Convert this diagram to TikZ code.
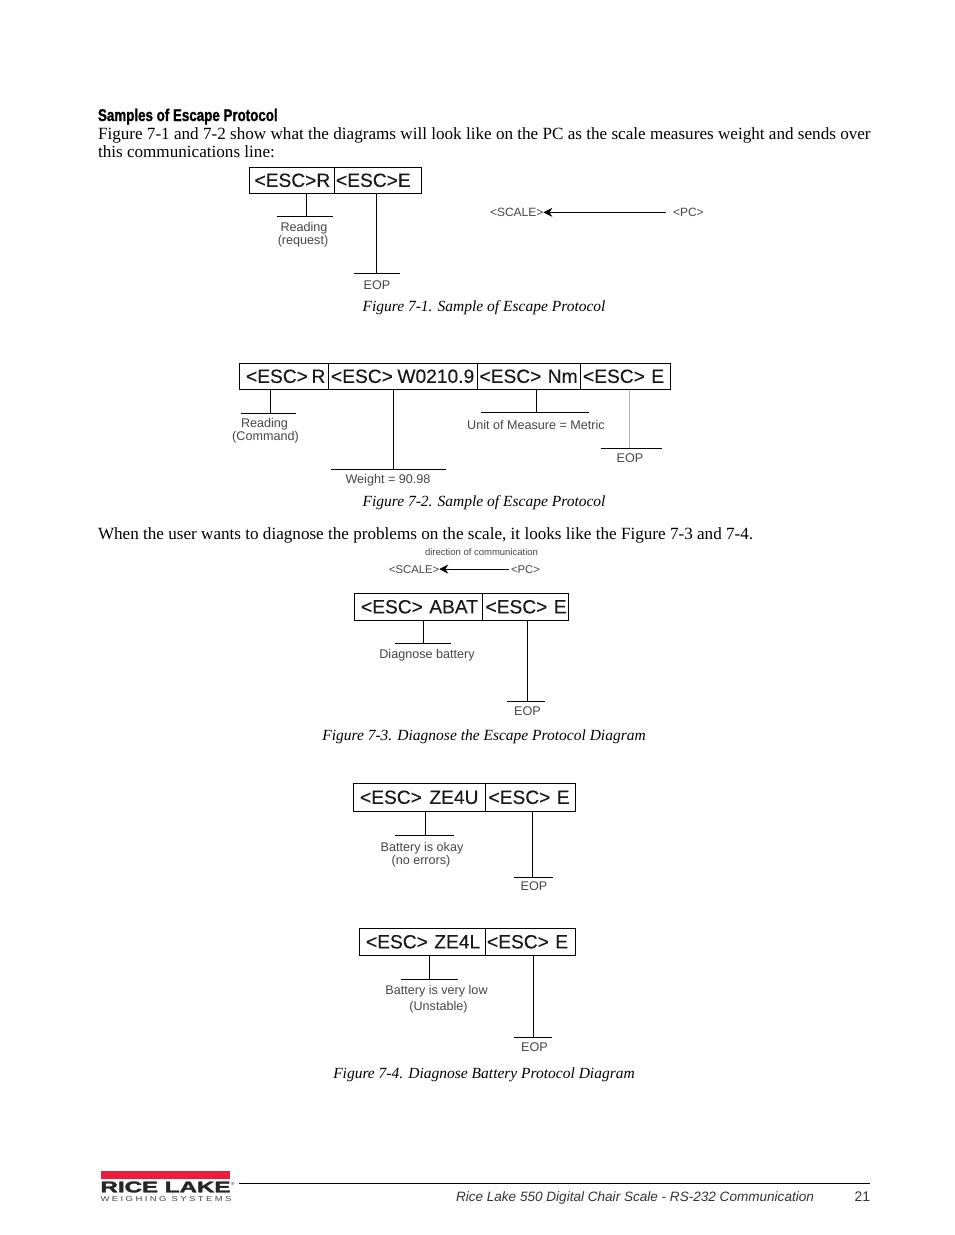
\documentclass[tikz,border=0pt]{standalone}
\usepackage{fontspec}
\setmainfont{Liberation Serif}
\setsansfont{Liberation Sans}
\newfontfamily\headfont[FakeStretch=0.786,BoldFeatures={FakeBold=1.2}]{Liberation Sans}
\newfontfamily\cellfont[FakeBold=0.25]{Liberation Sans}
\newfontfamily\logofont[BoldFeatures={FakeBold=2}]{Liberation Sans}
\newfontfamily\logosub[LetterSpace=25]{Liberation Sans}
\usetikzlibrary{arrows.meta}
\definecolor{redlogo}{RGB}{237,28,60}
\definecolor{inkgray}{RGB}{70,70,70}
\tikzset{
  every node/.style={inner sep=0pt,outer sep=0pt},
  ln/.style={draw=black,line width=0.8pt},
  ltln/.style={draw=gray!60,line width=0.8pt},
  cellbox/.style={draw=black,line width=0.8pt,align=left,font=\fontsize{19.2}{21}\selectfont\cellfont,text=black!90},
  lbl/.style={anchor=base,font=\fontsize{12.6}{13}\selectfont\sffamily,text=inkgray},
  sm/.style={anchor=base west,font=\fontsize{12}{13}\selectfont\sffamily,text=inkgray},
  smb/.style={sm,font=\fontsize{11.3}{13}\selectfont\sffamily},
  body/.style={anchor=base west,font=\fontsize{17.12}{18}\selectfont,text=black},
  caption/.style={anchor=base,font=\fontsize{15.5}{18}\selectfont\itshape,text=black},
  arr/.style={draw=black,line width=0.7pt,{Stealth[length=9pt,width=9pt]}-},
}
% name, x1, x2, y1, y2, left pad, text
\newcommand{\cellnode}[7]{%
  \pgfmathsetmacro{\cw}{#3-#2}\pgfmathsetmacro{\ch}{#5-#4}%
  \pgfmathsetmacro{\cx}{(#2+#3)/2}\pgfmathsetmacro{\cy}{(#4+#5)/2}%
  \node[cellbox,text width=\cw pt,minimum height=\ch pt] (#1) at (\cx,\cy) {\hspace*{#6pt}\raisebox{0.6pt}{\mbox{#7}}\hspace*{-20pt}};}
% name, cell, stem x, bar y, bar x1, bar x2, style
\newcommand{\stem}[7][ln]{%
  \coordinate (#2) at (#4,#5);
  \coordinate (#2L) at (#6,#5);
  \coordinate (#2R) at (#7,#5);
  \draw[#1] (#3.south -| #2) -- (#2);
  \draw[ln] (#2L) -- (#2R);}
\begin{document}
\begin{tikzpicture}[x=1pt,y=-1pt]
\useasboundingbox (0,0) rectangle (954,1235);
\fill[white] (0,0) rectangle (954,1235);

% Header text
\node[anchor=base west,font=\fontsize{17}{18}\selectfont\headfont\bfseries,text=black] (head) at (98,121) {Samples of Escape Protocol};
\node[body] (p1) at (98,139) {Figure 7-1 and 7-2 show what the diagrams will look like on the PC as the scale measures weight and sends over};
\node[body] (p2) at (98,157) {this communications line:};

% Figure 7-1
\cellnode{a1}{249.5}{334.5}{167.5}{193.5}{5}{<ESC>R}
\cellnode{a2}{334.5}{421.5}{167.5}{193.5}{1.5}{<ESC>E}
\stem{s1}{a1}{306.5}{216.5}{277}{333}
\stem{s2}{a2}{376.5}{273.5}{354}{400}
\node[lbl] (t1) at (304,231) {Reading};
\node[lbl] (t2) at (303,244) {(request)};
\node[lbl] (t3) at (377,289) {EOP};
\node[sm] (sc1) at (490,216.5) {<SCALE>};
\node[sm] (pc1) at (673,216.5) {<PC>};
\draw[arr] (sc1.east) -- ([xshift=-7pt]pc1.west);
\node[caption] (c1) at (484,311) {Figure 7-1. Sample of Escape Protocol};

% Figure 7-2
\cellnode{b1}{239.5}{328.5}{363.5}{389.5}{6.5}{<ESC>\hspace{3.6pt}R}
\cellnode{b2}{328.5}{477.5}{363.5}{389.5}{2.5}{<ESC>\hspace{4.5pt}W0210.9}
\cellnode{b3}{477.5}{580.5}{363.5}{389.5}{2}{<ESC> Nm}
\cellnode{b4}{580.5}{670.5}{363.5}{389.5}{2.5}{<ESC> E}
\stem{s3}{b1}{270.5}{413.5}{241}{296}
\stem{s4}{b2}{393.5}{469.5}{331}{446}
\stem{s5}{b3}{536.5}{412.5}{481}{589}
\stem[ltln]{s6}{b4}{629.5}{448.5}{601}{662}
\node[lbl] (t4) at (264.5,427) {Reading};
\node[lbl] (t5) at (265.5,440) {(Command)};
\node[lbl] (t6) at (388,483) {Weight = 90.98};
\node[lbl] (t7) at (536,429) {Unit of Measure = Metric};
\node[lbl] (t8) at (630,462) {EOP};
\node[caption] (c2) at (484,506) {Figure 7-2. Sample of Escape Protocol};

\node[body] (p3) at (98,539) {When the user wants to diagnose the problems on the scale, it looks like the Figure 7-3 and 7-4.};

% Figure 7-3
\node[anchor=base,font=\fontsize{9.5}{10}\selectfont\sffamily,text=inkgray] (dir) at (481.5,555) {direction of communication};
\node[smb] (sc2) at (389,573) {<SCALE>};
\node[smb] (pc2) at (511,573) {<PC>};
\draw[arr] (sc2.east) -- ([xshift=-2pt]pc2.west);
\cellnode{d1}{354.5}{482.5}{593.5}{620.5}{6.5}{<ESC> ABAT}
\cellnode{d2}{482.5}{568.5}{593.5}{620.5}{3}{<ESC> E}
\stem{s7}{d1}{423.5}{643.5}{395}{451}
\stem{s8}{d2}{527.5}{701.5}{507}{545}
\node[lbl] (t9) at (427,658) {Diagnose battery};
\node[lbl] (t10) at (527.5,715) {EOP};
\node[caption] (c3) at (484,740) {Figure 7-3. Diagnose the Escape Protocol Diagram};

% Figure 7-4
\cellnode{e1}{353.5}{485.5}{783.5}{811.5}{6.5}{<ESC>\hspace{7.5pt}ZE4U}
\cellnode{e2}{485.5}{575.5}{783.5}{811.5}{3}{<ESC> E}
\stem{s9}{e1}{425.5}{835.5}{395}{454}
\stem{s10}{e2}{532.5}{877.5}{514}{553}
\node[lbl] (t11) at (422,851) {Battery is okay};
\node[lbl] (t12) at (421,864) {(no errors)};
\node[lbl] (t13) at (534,890) {EOP};

\cellnode{f1}{359.5}{485.5}{928.5}{955.5}{6.5}{<ESC> ZE4L}
\cellnode{f2}{485.5}{575.5}{928.5}{955.5}{1.5}{<ESC> E}
\stem{s11}{f1}{429.5}{979.5}{401}{458}
\stem{s12}{f2}{533.5}{1037.5}{514}{552}
\node[lbl] (t14) at (436.5,994) {Battery is very low};
\node[lbl] (t15) at (438.5,1010) {(Unstable)};
\node[lbl] (t16) at (534.5,1051) {EOP};
\node[caption] (c4) at (484,1078) {Figure 7-4. Diagnose Battery Protocol Diagram};

% Footer
\fill[redlogo] (101,1171) rectangle (230,1179);
\node[anchor=base west,text=black!85] (logo) at (100.5,1192.3) {\resizebox{130pt}{10.8pt}{\logofont\bfseries RICE LAKE}};
\node[anchor=base west,text=inkgray] (logosub) at (100.5,1201.5) {\resizebox{131pt}{5pt}{\logosub WEIGHING SYSTEMS}};
\node[anchor=base west,font=\fontsize{4.5}{5}\selectfont\sffamily,text=black!85] (logoreg) at (231,1185) {®};
\coordinate (fl) at (239,1183.5);
\coordinate (fr) at (870,1183.5);
\draw[draw=black,line width=0.8pt] (fl) -- (fr);
\node[anchor=base east,font=\fontsize{13.56}{15}\selectfont\sffamily\itshape,text=black!80] (foot) at (814,1201) {Rice Lake 550 Digital Chair Scale - RS-232 Communication};
\node[anchor=base east,font=\fontsize{13.9}{15}\selectfont\sffamily,text=black!80] (pg) at (870,1201) {21};
\end{tikzpicture}
\end{document}
